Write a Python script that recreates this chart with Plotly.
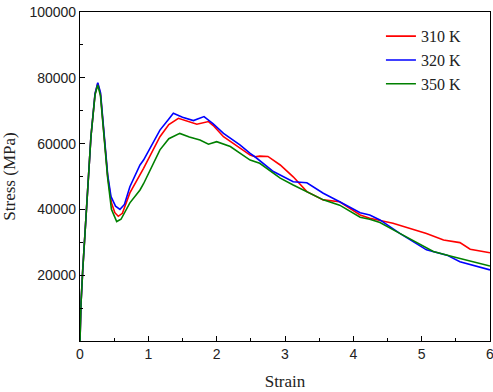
import plotly.graph_objects as go

# Strain / stress readings
strain_310 = [0, 0.015, 0.04, 0.10, 0.16, 0.22, 0.26, 0.30, 0.356, 0.405, 0.46, 0.51, 0.56, 0.62, 0.73, 0.878, 0.93,
              1.17, 1.30, 1.44, 1.55, 1.71, 1.88, 1.95, 2.1, 2.34, 2.49, 2.56, 2.63, 2.75, 2.93, 3.12, 3.32,
              3.56, 3.80, 4.10, 4.24, 4.58, 5.07, 5.32, 5.56, 5.71, 6.0]
stress_310 = [0, 11500, 21600, 42000, 62100, 75000, 78300, 75000, 62100, 50000, 42000, 39000, 37900, 38800, 45000, 50500, 52500,
              62100, 65800, 67700, 67000, 65900, 66700, 65500, 62100, 58600, 56500, 56000, 56200, 56100, 53500, 49900, 45400,
              42900, 42300, 38300, 37300, 35800, 32700, 30700, 29900, 27900, 26800]

strain_320 = [0, 0.015, 0.04, 0.10, 0.16, 0.22, 0.26, 0.30, 0.356, 0.405, 0.454, 0.52, 0.585, 0.65, 0.73, 0.878, 0.93,
              1.17, 1.30, 1.366, 1.50, 1.66, 1.815, 1.95, 2.1, 2.34, 2.49, 2.56, 2.83, 3.12, 3.32, 3.56, 3.80,
              4.10, 4.24, 4.39, 4.68, 5.07, 5.37, 5.56, 6.0]
stress_320 = [0, 11500, 21600, 42000, 62100, 75200, 78500, 75500, 62500, 50500, 43900, 41000, 40000, 41500, 46900, 53500, 55000,
              64100, 67500, 69200, 68000, 67000, 68200, 66000, 63100, 59600, 57000, 56000, 51500, 48400, 48100, 44900, 42300,
              39000, 38300, 36800, 32700, 27700, 26100, 24100, 21600]

strain_350 = [0, 0.015, 0.04, 0.10, 0.16, 0.22, 0.26, 0.30, 0.356, 0.405, 0.46, 0.537, 0.60, 0.73, 0.878, 0.93,
              1.17, 1.30, 1.46, 1.60, 1.756, 1.88, 2.0, 2.2, 2.34, 2.49, 2.63, 2.93, 3.12, 3.32, 3.56, 3.80,
              4.10, 4.24, 4.39, 4.68, 5.17, 5.46, 5.71, 6.0]
stress_350 = [0, 11500, 21600, 42000, 62100, 74800, 77800, 74500, 61500, 49500, 40000, 36300, 37000, 42000, 45900, 47800,
              58100, 61500, 63100, 62000, 61100, 59800, 60600, 59100, 57100, 55000, 54000, 49500, 47400, 45400, 42900, 41300,
              37600, 37000, 36000, 32700, 27200, 25600, 24400, 22800]

series = [("310 K", strain_310, stress_310, "#ff0000"),
          ("320 K", strain_320, stress_320, "#0000ff"),
          ("350 K", strain_350, stress_350, "#008000")]

x_ticks = [0, 1, 2, 3, 4, 5, 6]
x_labels = ["0", "1", "2", "3", "4", "5", "6"]
y_ticks = [20000, 40000, 60000, 80000, 100000]
y_labels = ["20000", "40000", "60000", "80000", "100000"]

fig = go.Figure()
for name, xs, ys, col in series:
    fig.add_trace(go.Scatter(x=xs, y=ys, mode="lines", name=name,
                             line=dict(color=col, width=1.6)))

axis_common = dict(showline=True, linecolor="black", linewidth=1.2, mirror=True,
                   ticks="inside", ticklen=5, tickcolor="black", tickwidth=1,
                   showgrid=False, zeroline=False, ticklabeloverflow="allow",
                   tickfont=dict(family="Liberation Sans", size=14, color="#222"))

fig.update_xaxes(range=[0, 6], tickvals=x_ticks, ticktext=x_labels,
                 minor=dict(ticks="inside", ticklen=3, dtick=0.5, tickcolor="black", showgrid=False),
                 title=dict(text="Strain", font=dict(family="Liberation Serif", size=17, color="#222"),
                            standoff=14),
                 **axis_common)
fig.update_yaxes(range=[0, 100000], tickvals=y_ticks, ticktext=y_labels,
                 minor=dict(ticks="inside", ticklen=3, dtick=10000, tickcolor="black", showgrid=False),
                 title=dict(text="Stress (MPa)", font=dict(family="Liberation Serif", size=17, color="#222"),
                            standoff=10),
                 **axis_common)

fig.update_layout(
    width=493, height=392,
    margin=dict(l=80, r=3, t=12, b=51, autoexpand=False),
    plot_bgcolor="white", paper_bgcolor="white",
    showlegend=True,
    legend=dict(x=0.734, y=0.978, xanchor="left", yanchor="top",
                bgcolor="rgba(0,0,0,0)", borderwidth=0,
                font=dict(family="Liberation Serif", size=16, color="#222"),
                tracegroupgap=0),
)

fig.write_html("out.html")
